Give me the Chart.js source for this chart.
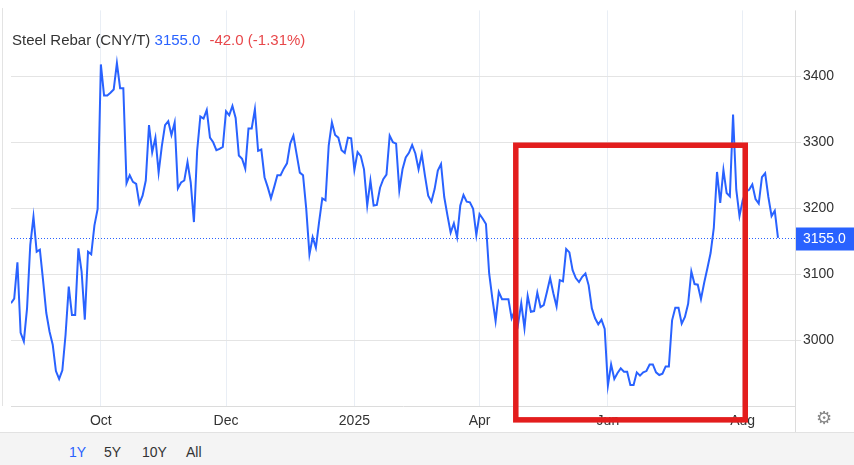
<!DOCTYPE html>
<html>
<head>
<meta charset="utf-8">
<script src="https://cdn.jsdelivr.net/npm/chart.js@4/dist/chart.umd.min.js"></script>
<style>
  html, body { margin: 0; padding: 0; background: #fff; }
  body { width: 854px; height: 465px; position: relative; overflow: hidden; font-family: Arial, "Liberation Sans", sans-serif; }
  #wrap { position: absolute; left: 0; top: 0; width: 854px; height: 432px; }
  #leftEdge { position: absolute; left: 2px; top: 8px; width: 1px; height: 398px; background: #e3e3e3; }
  #title { position: absolute; left: 12px; top: 31px; font-size: 15px; line-height: 18px; color: #333; white-space: nowrap; }
  #title .last { color: #2962ff; }
  #title .chg { color: #e8474a; margin-left: 9px; }
  #bar { position: absolute; left: 0; top: 432px; width: 854px; height: 33px; background: #f4f4f4; border-top: 1px solid #e2e2e2; }
  #bar span { position: absolute; top: 11px; font-size: 14px; line-height: 16px; color: #333; }
  #bar span.on { color: #2962ff; }
  #gear { position: absolute; left: 816px; top: 407px; font-family: "DejaVu Sans", sans-serif; font-size: 18px; color: #888; }
</style>
</head>
<body>
<div id="wrap"><canvas id="trendChart" width="854" height="432"></canvas></div>
<div id="leftEdge"></div>
<div id="title">Steel Rebar (CNY/T) <span class="last">3155.0</span><span class="chg">-42.0 (-1.31%)</span></div>
<div id="gear">⚙</div>
<div id="bar">
  <span class="on" style="left:69px">1Y</span>
  <span style="left:104px">5Y</span>
  <span style="left:142px">10Y</span>
  <span style="left:186px">All</span>
</div>
<script>
// daglig stängning, ett år (handelsdagar)
const prices = [
    3056, 3063, 3118, 3011, 2998, 3048, 3144, 3187, 3134, 3137,
    3090, 3041, 3013, 2993, 2953, 2941, 2954, 3008, 3081, 3038,
    3038, 3139, 3104, 3031, 3134, 3130, 3174, 3199, 3418, 3371,
    3371, 3375, 3380, 3420, 3382, 3382, 3238, 3250, 3240, 3237,
    3207, 3219, 3242, 3326, 3285, 3307, 3254, 3294, 3326, 3332,
    3311, 3330, 3230, 3239, 3242, 3270, 3239, 3179, 3287, 3339,
    3336, 3349, 3307, 3300, 3288, 3290, 3293, 3347, 3341, 3355,
    3337, 3280, 3275, 3260, 3321, 3321, 3350, 3287, 3289, 3247,
    3232, 3215, 3232, 3250, 3250, 3260, 3268, 3298, 3310, 3282,
    3254, 3250, 3199, 3130, 3156, 3140, 3179, 3215, 3212, 3295,
    3330, 3311, 3307, 3288, 3284, 3307, 3306, 3258, 3285, 3279,
    3259, 3204, 3242, 3204, 3205, 3231, 3244, 3251, 3310, 3300,
    3298, 3227, 3259, 3277, 3284, 3296, 3283, 3259, 3282, 3249,
    3219, 3210, 3229, 3257, 3267, 3217, 3189, 3163, 3177, 3156,
    3204, 3220, 3210, 3209, 3199, 3159, 3191, 3184, 3176, 3101,
    3063, 3029, 3073, 3062, 3062, 3062, 3033, 3045, 3024, 3056,
    3018, 3067, 3043, 3044, 3072, 3050, 3053, 3073, 3094, 3071,
    3051, 3091, 3089, 3138, 3133, 3106, 3094, 3088, 3096, 3101,
    3083, 3048, 3033, 3024, 3031, 3017, 2931, 2963, 2941, 2950,
    2957, 2952, 2952, 2932, 2932, 2951, 2946, 2951, 2953, 2963,
    2963, 2951, 2947, 2949, 2960, 2960, 3030, 3049, 3049, 3025,
    3035, 3055, 3104, 3085, 3084, 3062, 3087, 3109, 3132, 3170,
    3255, 3208, 3258, 3223, 3218, 3342, 3228, 3188, 3212, 3225,
    3228, 3236, 3214, 3207, 3247, 3253, 3217, 3188, 3196, 3155
];

const xTickPos = [28, 67, 107, 146, 186, 228];
const xTickLabels = ['Oct', 'Dec', '2025', 'Apr', 'Jun', 'Aug'];
const yTicks = [3000, 3100, 3200, 3300, 3400];

// röd markering (dag-index / pris)
const boxDays = [157.3, 228.8];
const boxPrices = [2879, 3295.5];

const lineBlue = '#2962ff';
const fontFam = 'Arial, "Liberation Sans", sans-serif';

const overlayPlugin = {
    id: 'overlay',
    beforeDatasetsDraw(chart) {
        const { ctx, chartArea: a, scales: { y } } = chart;
        const py = Math.round(y.getPixelForValue(prices[prices.length - 1])) + 0.5;
        ctx.save();
        ctx.strokeStyle = lineBlue;
        ctx.lineWidth = 1;
        ctx.setLineDash([1, 2]);
        ctx.beginPath(); ctx.moveTo(a.left, py); ctx.lineTo(a.right, py); ctx.stroke();
        ctx.restore();
    },
    afterDraw(chart) {
        const { ctx, chartArea: a, scales: { x, y } } = chart;
        const last = prices[prices.length - 1];
        const py = Math.round(y.getPixelForValue(last)) + 0.5;
        ctx.save();
        // höger avgränsning
        ctx.strokeStyle = '#dcdcdc';
        ctx.lineWidth = 1;
        ctx.beginPath(); ctx.moveTo(a.right + 0.5, a.top); ctx.lineTo(a.right + 0.5, chart.height); ctx.stroke();
        // pris-etikett
        ctx.fillStyle = lineBlue;
        ctx.fillRect(a.right + 1, py - 11, chart.width - a.right - 1, 23);
        ctx.fillStyle = '#fff';
        ctx.font = '14px ' + fontFam;
        ctx.textBaseline = 'middle';
        ctx.fillText(last.toFixed(1), a.right + 8, py + 1);
        // röd ruta
        const x0 = x.getPixelForValue(boxDays[0]), x1 = x.getPixelForValue(boxDays[1]);
        const y0 = y.getPixelForValue(boxPrices[1]), y1 = y.getPixelForValue(boxPrices[0]);
        ctx.strokeStyle = '#e31d1d';
        ctx.lineWidth = 5.5;
        ctx.strokeRect(x0, y0, x1 - x0, y1 - y0);
        ctx.restore();
    }
};

const ctx = document.getElementById('trendChart').getContext('2d');
new Chart(ctx, {
    type: 'line',
    data: {
        datasets: [{
            label: 'Steel Rebar',
            data: prices.map((v, i) => ({ x: i, y: v })),
            borderColor: lineBlue, borderWidth: 2, pointRadius: 0, tension: 0, fill: false
        }]
    },
    options: {
        responsive: false, animation: false, devicePixelRatio: 1,
        layout: { padding: { left: 11, top: 8, right: 0, bottom: 0 } },
        plugins: { legend: { display: false }, tooltip: { enabled: false } },
        scales: {
            x: {
                type: 'linear', min: 0, max: 244.3,
                afterBuildTicks: s => { s.ticks = xTickPos.map(v => ({ value: v })); },
                afterFit: s => { s.height = 26; },
                grid: { color: '#e9eef5', drawTicks: false },
                border: { color: '#dcdcdc' },
                ticks: { autoSkip: false, maxRotation: 0, padding: 7, color: '#333', font: { size: 14, family: fontFam },
                         callback: (v, i) => xTickLabels[i] }
            },
            y: {
                position: 'right', min: 2900, max: 3500,
                afterBuildTicks: s => { s.ticks = yTicks.map(v => ({ value: v })); },
                afterFit: s => { s.width = 59; },
                grid: { color: '#e4e4e4', tickLength: 6 },
                border: { display: false },
                ticks: { padding: 2, color: '#333', font: { size: 14, family: fontFam }, callback: v => String(v) }
            }
        }
    },
    plugins: [overlayPlugin]
});
</script>
</body>
</html>
